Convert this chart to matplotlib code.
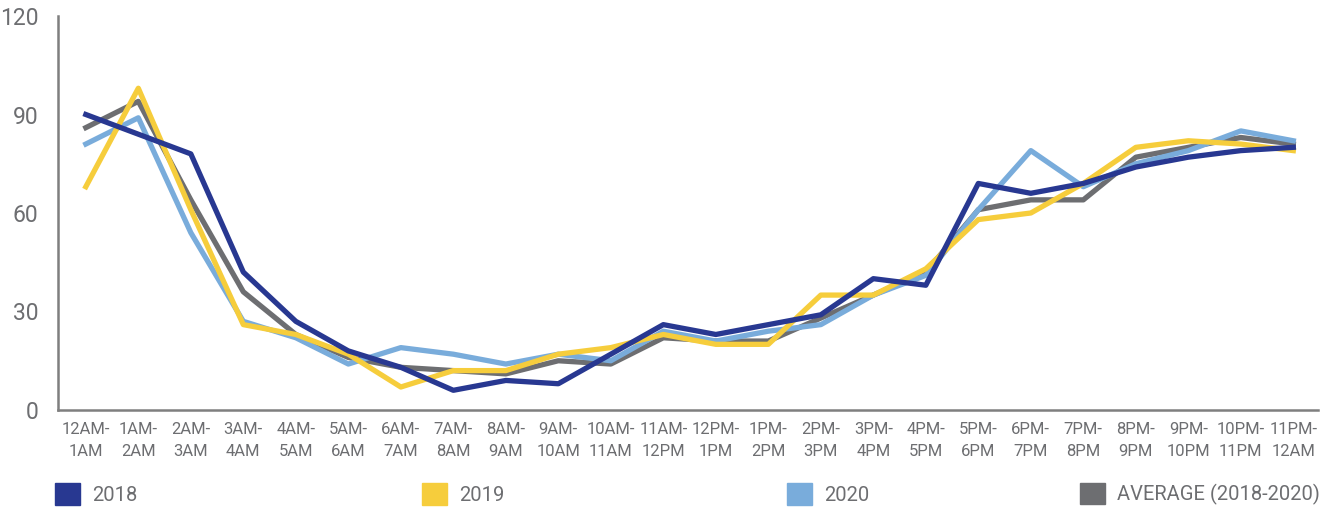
import matplotlib
matplotlib.use("Agg")
import matplotlib.pyplot as plt
import matplotlib.patches as mpatches

# Schmalste verfügbare Schrift
plt.rcParams['font.family'] = ['Roboto', 'DejaVu Sans']

# Daten
hours = ["12AM-\n1AM", "1AM-\n2AM", "2AM-\n3AM", "3AM-\n4AM", "4AM-\n5AM", "5AM-\n6AM",
         "6AM-\n7AM", "7AM-\n8AM", "8AM-\n9AM", "9AM-\n10AM", "10AM-\n11AM", "11AM-\n12PM",
         "12PM-\n1PM", "1PM-\n2PM", "2PM-\n3PM", "3PM-\n4PM", "4PM-\n5PM", "5PM-\n6PM",
         "6PM-\n7PM", "7PM-\n8PM", "8PM-\n9PM", "9PM-\n10PM", "10PM-\n11PM", "11PM-\n12AM"]
y2018 = [90, 84, 78, 42, 27, 18, 13, 6, 9, 8, 17, 26, 23, 26, 29, 40, 38, 69, 66, 69, 74, 77, 79, 80]
y2019 = [68, 98, 61, 26, 23, 17, 7, 12, 12, 17, 19, 23, 20, 20, 35, 35, 43, 58, 60, 69, 80, 82, 81, 79]
y2020 = [81, 89, 54, 27, 22, 14, 19, 17, 14, 17, 15, 24, 21, 24, 26, 35, 41, 61, 79, 68, 75, 79, 85, 82]
yavg = [86, 94, 64, 36, 23, 16, 13, 12, 11, 15, 14, 22, 21, 21, 28, 35, 42, 61, 64, 64, 77, 80, 83, 81]

c2018 = '#283891'
c2019 = '#F6CD3C'
c2020 = '#79ACDB'
cavg = '#6D6E71'
txt = '#6D6E71'

fig = plt.figure(figsize=(13.3, 5.12), dpi=100)
ax = fig.add_axes([58/1330, 102/512, 1260/1330, 394/512])

x = list(range(len(hours)))
ax.plot(x, yavg, color=cavg, lw=3.8, zorder=2)
ax.plot(x, y2020, color=c2020, lw=3.8, zorder=3)
ax.plot(x, y2019, color=c2019, lw=3.8, zorder=4)
ax.plot(x, y2018, color=c2018, lw=3.8, zorder=5)

ax.set_xlim(-0.53, 23.47)
ax.set_ylim(0, 120)
ax.set_yticks([0, 30, 60, 90, 120])
ax.set_xticks(x)
ax.set_xticklabels(hours, fontsize=12, color=txt, linespacing=1.5)
ax.tick_params(axis='y', length=0, pad=14, labelsize=16.5, labelcolor=txt)
ax.tick_params(axis='x', length=0, pad=9)

for s in ['top', 'right']:
    ax.spines[s].set_visible(False)
for s in ['left', 'bottom']:
    ax.spines[s].set_color('#7F7F7F')
    ax.spines[s].set_linewidth(1.8)

# Legende: jeder Eintrag einzeln platziert
entries = [("2018", c2018, 55), ("2019", c2019, 422), ("2020", c2020, 787),
           ("AVERAGE (2018-2020)", cavg, 1080)]
for label, col, px in entries:
    leg = fig.legend(handles=[mpatches.Patch(color=col, label=label)],
                     loc='center left', bbox_to_anchor=(px/1330, 18/512),
                     frameon=False, fontsize=14.5, handlelength=1.25, handleheight=1.25,
                     handletextpad=0.6, borderpad=0, borderaxespad=0)
    for t in leg.get_texts():
        t.set_color(txt)

fig.savefig("out.png", dpi=100)
